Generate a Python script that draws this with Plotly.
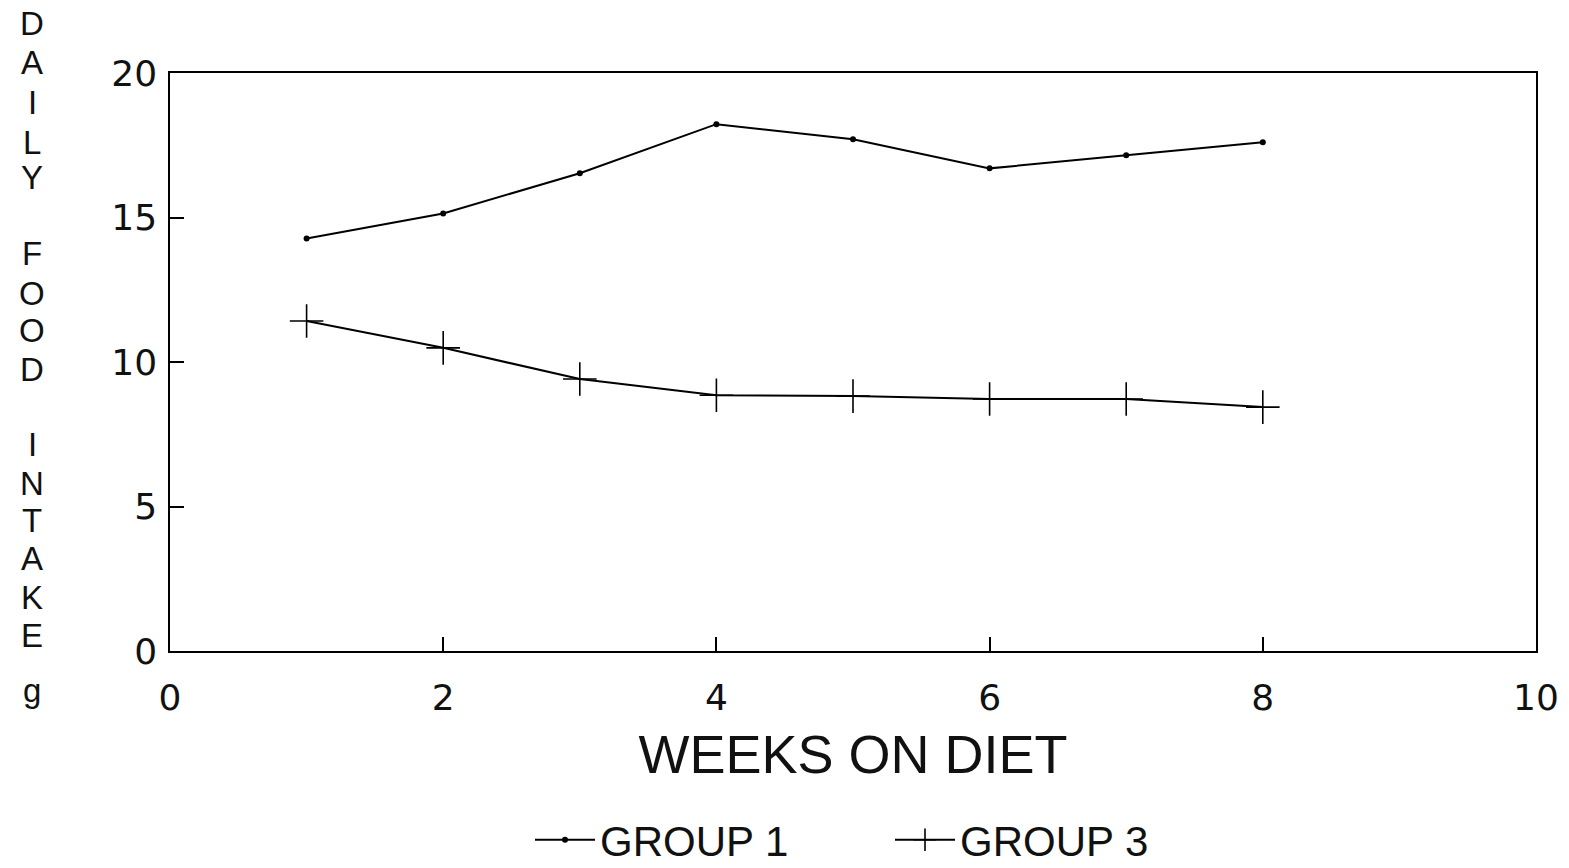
import plotly.graph_objects as go

weeks = [1, 2, 3, 4, 5, 6, 7, 8]
group1 = [14.27, 15.14, 16.53, 18.23, 17.71, 16.70, 17.15, 17.60]
group3 = [11.42, 10.49, 9.41, 8.85, 8.82, 8.72, 8.72, 8.44]

x_ticks = [0, 2, 4, 6, 8, 10]
y_ticks = [0, 5, 10, 15, 20]

y_title_letters = ["D", "A", "I", "L", "Y", "F", "O", "O", "D",
                   "I", "N", "T", "A", "K", "E", "g"]
y_title_pix = [24, 63, 102, 142, 177, 253, 293, 330, 369,
               444, 483, 520, 558, 597, 635, 690]

W, H = 1569, 868
L, T = 170, 73
PW, PH = 1366, 578
R, B = W - L - PW, H - T - PH
FONT = "Liberation Sans"
TICKFONT = "DejaVu Sans"


def px_x(px):
    return (px - L) / PW


def px_y(py):
    return (T + PH - py) / PH


fig = go.Figure()
fig.add_trace(go.Scatter(
    x=weeks, y=group1, name="GROUP 1", mode="lines+markers",
    line=dict(color="black", width=2),
    marker=dict(symbol="circle", size=6, color="black"),
))
fig.add_trace(go.Scatter(
    x=weeks, y=group3, name="GROUP 3", mode="lines+markers",
    line=dict(color="black", width=2),
    marker=dict(symbol="cross-thin-open", size=24,
                line=dict(color="black", width=1.6)),
))

annotations = []
for ch, py in zip(y_title_letters, y_title_pix):
    annotations.append(dict(
        text=ch, x=px_x(32), xref="paper",
        y=px_y(py), yref="paper",
        showarrow=False, xanchor="center", yanchor="middle",
        font=dict(family=FONT, size=33, color="#111"),
    ))

fig.update_layout(
    width=W, height=H,
    margin=dict(l=L, r=R, t=T, b=B, autoexpand=False),
    paper_bgcolor="white", plot_bgcolor="white",
    font=dict(family=FONT, color="#111"),
    showlegend=True,
    legend=dict(
        orientation="h", x=px_x(530), xanchor="left",
        y=px_y(840), yanchor="middle",
        font=dict(family=FONT, size=42, color="#111"),
        entrywidth=285, entrywidthmode="pixels",
        itemwidth=60, bgcolor="rgba(0,0,0,0)",
    ),
    annotations=annotations,
    xaxis=dict(
        range=[0, 10], tickvals=x_ticks, ticktext=[str(v) for v in x_ticks],
        showgrid=False, zeroline=False, automargin=False,
        showline=True, linecolor="black", linewidth=1.5, mirror=True,
        ticks="inside", ticklen=14, tickwidth=1.5, tickcolor="black",
        tickfont=dict(family=TICKFONT, size=36, color="#111"),
        ticklabelstandoff=14,
        title=dict(text="WEEKS ON DIET", standoff=18,
                   font=dict(family=FONT, size=54, color="#111")),
    ),
    yaxis=dict(
        range=[0, 20], tickvals=y_ticks, ticktext=[str(v) for v in y_ticks],
        showgrid=False, zeroline=False, automargin=False,
        showline=True, linecolor="black", linewidth=1.5, mirror=True,
        ticks="inside", ticklen=14, tickwidth=1.5, tickcolor="black",
        tickfont=dict(family=TICKFONT, size=36, color="#111"),
        ticklabelstandoff=4,
    ),
)

fig.write_html(
    "out.html",
    config={"displayModeBar": False},
    post_script="document.body.style.margin='0px';",
)
